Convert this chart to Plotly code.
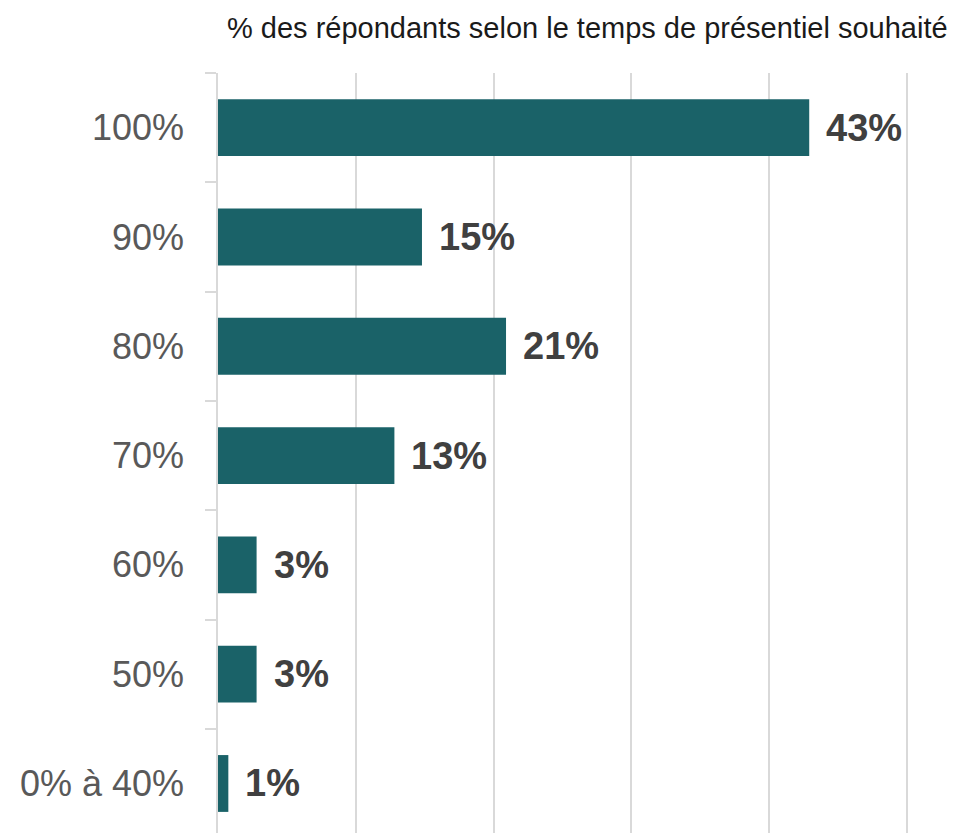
import plotly.graph_objects as go

categories = ["100%", "90%", "80%", "70%", "60%", "50%", "0% à 40%"]
values = [42.9, 14.8, 20.9, 12.8, 2.8, 2.8, 0.75]
labels = ["43%", "15%", "21%", "13%", "3%", "3%", "1%"]
title_text = "% des répondants selon le temps de présentiel souhaité"

BAR_COLOR = "#1a6268"

fig = go.Figure()
fig.add_trace(go.Bar(
    x=values,
    y=categories,
    orientation="h",
    marker=dict(color=BAR_COLOR, line=dict(width=0)),
    width=0.52,
    hoverinfo="skip",
))

for c, v, t in zip(categories, values, labels):
    fig.add_annotation(
        x=v, y=c, text="<b>" + t + "</b>", showarrow=False,
        xanchor="left", yanchor="middle", xshift=15,
        font=dict(family="Liberation Sans, Arial, sans-serif", size=38, color="#404040"),
    )

fig.add_annotation(
    x=1.0, xref="paper", xanchor="right", xshift=-6,
    y=1.059, yref="paper", yanchor="middle",
    text=title_text, showarrow=False,
    font=dict(family="Liberation Sans, Arial, sans-serif", size=29, color="#1a1a1a"),
)

fig.update_layout(
    width=948, height=825,
    margin=dict(l=210, r=0, t=65, b=0),
    paper_bgcolor="white", plot_bgcolor="white",
    showlegend=False,
    xaxis=dict(
        range=[0, 53.55], dtick=10, tick0=0,
        showgrid=True, gridcolor="#d9d9d9", gridwidth=1.5,
        showticklabels=False, zeroline=False, showline=False, ticks="",
    ),
    yaxis=dict(
        categoryorder="array", categoryarray=categories,
        range=[6.453, -0.5],
        showline=True, linecolor="#d9d9d9", linewidth=1.5,
        ticks="outside", ticklen=11, tickcolor="#d9d9d9", tickwidth=1.5,
        tickson="boundaries",
        showgrid=False, zeroline=False,
        tickfont=dict(family="Liberation Sans, Arial, sans-serif", size=36, color="#595959"),
        ticklabelstandoff=25,
    ),
)

fig.write_html("out.html")
